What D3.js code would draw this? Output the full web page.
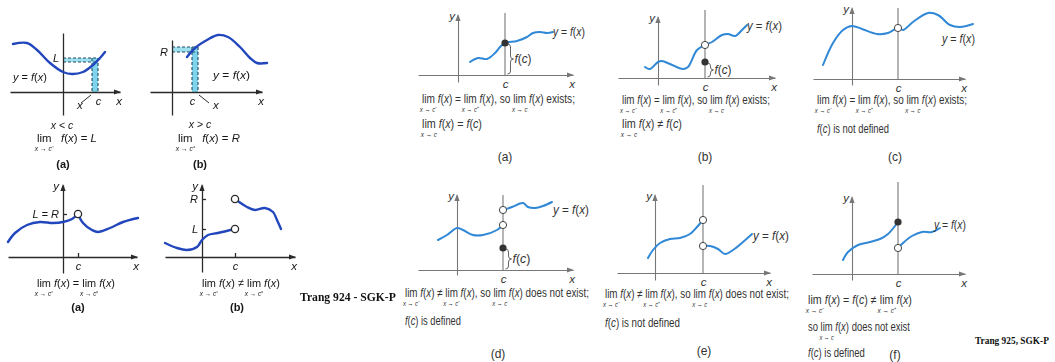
<!DOCTYPE html>
<html><head><meta charset="utf-8">
<script src="https://cdn.jsdelivr.net/npm/d3@7"></script>
<style>body{margin:0;background:#fff}svg{display:block}</style>
</head><body>
<svg id="chart" width="1055" height="362"></svg>
<script>
// ================= DATA (axis units) =================
// ---- left page (Trang 924) ----
const lA_curve = [[-5.0,4.8],[-3.6,4.9],[-2.6,4.2],[-1.3,2.9],[0,2.0],[0.9,1.8],[2.0,2.0],[3.0,2.7],[3.7,3.4],[4.2,4.0]];
const lA_c = 3.5, lA_x = 2.9, lA_L = 3.4, lA_fx = 3.0;
const lB_curve = [[1.5,3.5],[2.3,4.4],[3.5,5.2],[4.6,5.7],[5.6,5.5],[6.8,4.5],[7.8,3.4],[8.5,2.9],[9.5,2.9]];
const lB_c = 2.0, lB_x = 2.6, lB_R = 4.0, lB_fx = 4.5;
const lC_left  = [[-5.5,1.5],[-4.8,2.4],[-3.6,3.2],[-2.3,3.5],[-1.0,3.4],[0,3.5],[0.9,3.8],[1.5,4.3]];
const lC_right = [[1.5,4.3],[2.0,3.4],[2.9,2.7],[3.5,2.5],[4.7,2.9],[6.0,3.5],[7.5,3.9]];
const lC_c = 1.5, lC_LR = 4.3;
const lD_left  = [[-3.7,1.4],[-2.5,0.9],[-1.5,0.7],[-0.5,1.0],[0,1.7],[0.6,2.2],[1.6,2.4],[3.3,2.8]];
const lD_right = [[3.3,5.8],[4.5,5.0],[5.3,4.7],[6.3,4.9],[7.1,4.5],[7.5,3.7],[7.9,2.8]];
const lD_c = 3.3, lD_L = 2.8, lD_R = 5.8;

// ---- right page (Trang 925) ----
const rA_curves = [[[1.2,1.3],[2.0,1.7],[2.9,1.6],[3.7,2.2],[4.2,2.8],[4.7,3.2],[5.9,3.4],[6.9,3.8],[7.5,4.2],[8.2,4.3],[8.9,4.2],[9.5,4.3]]];
const rA_c = 4.7, rA_open = [], rA_filled = [3.2], rA_fc = 3.2;
const rB_curves = [[[-1.3,1.1],[-0.8,0.9],[0,1.6],[0.4,1.7],[1.2,1.4],[2.5,0.9],[3.0,1.1],[3.9,2.8],[4.7,3.3],[5.4,3.6],[6.4,4.3],[7.0,4.4],[7.7,4.2],[8.4,4.8],[8.9,5.3]]];
const rB_c = 4.7, rB_open = [3.3], rB_filled = [1.6], rB_fc = 1.6;
const rC_curves = [[[-2.9,1.4],[-1.9,3.6],[-0.9,4.9],[0,5.3],[1.0,5.0],[2.5,4.5],[3.6,4.6],[4.6,5.1],[5.1,4.9],[6.1,5.7],[7.6,6.6],[8.6,6.4],[9.8,5.4],[10.8,5.2],[12.1,5.5]]];
const rC_c = 4.6, rC_open = [5.1], rC_filled = [], rC_fc = null;
const rD_curves = [[[-1.9,3.0],[-1.0,3.5],[0,4.2],[0.6,4.0],[1.6,3.5],[2.6,3.5],[4.0,4.0],[4.6,4.5]],
                   [[4.6,6.0],[5.5,6.3],[6.6,6.7],[7.1,6.3],[7.8,6.2],[8.6,6.4],[9.5,6.8]]];
const rD_c = 4.6, rD_open = [4.5, 6.0], rD_filled = [2.2], rD_fc = 2.2;
const rE_curves = [[[-0.7,1.5],[-0.2,2.3],[0.5,3.0],[1.5,3.4],[2.5,3.5],[3.5,3.9],[4.2,4.6],[4.8,5.3]],
                   [[4.8,2.7],[5.5,2.7],[6.3,2.4],[7.0,1.9],[7.8,2.3],[8.8,3.1],[9.7,3.9]]];
const rE_c = 4.8, rE_open = [5.3, 2.7], rE_filled = [], rE_fc = null;
const rF_curves = [[[-0.9,1.4],[-0.4,2.2],[0.6,2.9],[1.8,3.2],[2.8,3.5],[3.6,4.0],[4.6,5.2]],
                   [[4.6,2.6],[5.1,3.1],[6.0,3.8],[7.0,4.2],[8.0,4.2],[8.8,4.6]]];
const rF_c = 4.6, rF_open = [2.6], rF_filled = [5.2], rF_fc = null;

// ---- texts ----
const LM = "*x* → *c*⁻", LP = "*x* → *c*⁺", L0 = "*x* → *c*";
const capRA = [[{lim:LM}," *f*(*x*) = ",{lim:LP}," *f*(*x*), so ",{lim:L0}," *f*(*x*) exists;"],[{lim:L0}," *f*(*x*) = *f*(*c*)"]];
const capRB = [[{lim:LM}," *f*(*x*) = ",{lim:LP}," *f*(*x*), so ",{lim:L0}," *f*(*x*) exists;"],[{lim:L0}," *f*(*x*) ≠ *f*(*c*)"]];
const capRC = [[{lim:LM}," *f*(*x*) = ",{lim:LP}," *f*(*x*), so ",{lim:L0}," *f*(*x*) exists;"],["*f*(*c*) is not defined"]];
const capRD = [[{lim:LM}," *f*(*x*) ≠ ",{lim:LM}," *f*(*x*), so ",{lim:L0}," *f*(*x*) does not exist;"],["*f*(*c*) is defined"]];
const capRE = [[{lim:LM}," *f*(*x*) ≠ ",{lim:LP}," *f*(*x*), so ",{lim:L0}," *f*(*x*) does not exist;"],["*f*(*c*) is not defined"]];
const capRF = [[{lim:LM}," *f*(*x*) = *f*(*c*) ≠ ",{lim:LP}," *f*(*x*)"],["so ",{lim:L0}," *f*(*x*) does not exist"],["*f*(*c*) is defined"]];
const capLA = [{lim:"*x* → *c*⁻"},"   *f*(*x*) = *L*"];
const capLB = [{lim:"*x* → *c*⁺"},"   *f*(*x*) = *R*"];
const capLC = [{lim:"*x* → *c*⁻"}," *f*(*x*) = ",{lim:"*x* → *c*⁺"}," *f*(*x*)"];
const capLD = [{lim:"*x* → *c*⁻"}," *f*(*x*) ≠ ",{lim:"*x* → *c*⁺"}," *f*(*x*)"];
const panelTags = ["(a)","(b)","(c)","(d)","(e)","(f)"];
const pageTags = ["Trang 924 - SGK-P","Trang 925, SGK-P"];

// ================= DRAWING =================
const svg = d3.select("#chart");
const K = 10; // px per axis unit
const FONT = "'Liberation Sans Narrow','Liberation Sans',Arial,sans-serif";
const SERIF = "'Liberation Serif','Times New Roman',serif";
const RBLUE = "#3088d6", LBLUE = "#2447bd", RTXT = "#333", LTXT = "#161616";

svg.append("defs").append("filter").attr("id","scan")
  .append("feGaussianBlur").attr("stdDeviation",0.35);

function rich(sel, str){
  str.split("*").forEach((seg,i)=>{ if(seg) sel.append("tspan").attr("font-style", i%2 ? "italic" : null).text(seg); });
}
function formula(g, x, y, w, parts, o={}){
  const fs=o.fs||12.5, ss=o.ss||7.5, sd=o.sd||9.5, col=o.col||RTXT;
  const grp = g.append("g").attr("font-family",o.family||FONT).attr("fill",col).attr("font-weight",o.bold?"bold":null);
  let cx=0;
  parts.forEach(p=>{
    if (typeof p === "object"){
      const t = grp.append("text").attr("x",cx).attr("y",0).attr("font-size",fs).text("lim");
      const tw = t.node().getComputedTextLength();
      const s = grp.append("text").attr("x",cx+tw/2).attr("y",sd).attr("font-size",ss).attr("text-anchor","middle");
      rich(s,p.lim);
      cx += tw;
    } else {
      const t = grp.append("text").attr("x",cx).attr("y",0).attr("font-size",fs)
        .attr("xml:space","preserve").style("white-space","pre");
      rich(t,p);
      cx += t.node().getComputedTextLength();
    }
  });
  const sx = w ? w/cx : 1;
  grp.attr("transform",`translate(${x},${y}) scale(${sx},1)`);
  return grp;
}
function label(g, x, y, str, o={}){
  const t = g.append("text").attr("x",x).attr("y",y).attr("font-family",FONT)
    .attr("font-size",o.fs||11.5).attr("fill",o.col||RTXT).attr("text-anchor",o.anchor||"start")
    .attr("font-weight",o.bold?"bold":null);
  rich(t,str);
  return t;
}
function scales(ox, oy, xd, yd){
  return {
    x: d3.scaleLinear().domain(xd).range(xd.map(v=>ox+v*K)),
    y: d3.scaleLinear().domain(yd).range(yd.map(v=>oy-v*K))
  };
}
function arrowR(g, x, y, col){ g.append("path").attr("d",`M${x+1},${y}L${x-6},${y-2.6}L${x-6},${y+2.6}Z`).attr("fill",col); }
function arrowU(g, x, y, col){ g.append("path").attr("d",`M${x},${y-1}L${x-2.6},${y+6}L${x+2.6},${y+6}Z`).attr("fill",col); }
const lineGen = (s)=> d3.line().x(d=>s.x(d[0])).y(d=>s.y(d[1])).curve(d3.curveCatmullRom.alpha(0.5));

function axes(g, s, col, width, xTicks, xFmt, xTickSize, yTicks, yFmt, yTickSize, fs, tcol){
  const xa = g.append("g").attr("transform",`translate(0,${s.y(0)})`)
    .call(d3.axisBottom(s.x).tickValues(xTicks).tickFormat(xFmt).tickSize(xTickSize).tickPadding(5).tickSizeOuter(0));
  const ya = g.append("g").attr("transform",`translate(${s.x(0)},0)`)
    .call(d3.axisLeft(s.y).tickValues(yTicks).tickFormat(yFmt).tickSize(yTickSize).tickPadding(4).tickSizeOuter(0));
  [xa,ya].forEach(a=>{
    a.select(".domain").attr("stroke",col).attr("stroke-width",width);
    a.selectAll(".tick line").attr("stroke",col).attr("stroke-width",width);
    a.selectAll(".tick text").attr("font-family",FONT).attr("font-size",fs).attr("font-style","italic").attr("fill",tcol);
  });
  arrowR(g, s.x.range()[1], s.y(0), col);
}

// ---------------- right page panels ----------------
function rightPanel(cfg, curves, c, open, filled, fc, caps, tag){
  const g = svg.append("g");
  const s = scales(cfg.ox, cfg.oy, cfg.xd, cfg.yd);
  g.append("line").attr("x1",s.x(c)).attr("x2",s.x(c)).attr("y1",s.y(0)).attr("y2",s.y(cfg.cTop))
    .attr("stroke","#777").attr("stroke-width",1.1);
  axes(g, s, "#777", 1.1, [c], ()=>"c", 0, [], null, 0, 11.5, RTXT);
  arrowU(g, s.x(0), s.y.range()[1], "#777");
  label(g, s.x(0)-6, s.y.range()[1]+5, "*y*", {anchor:"middle"});
  label(g, s.x.range()[1]-1, s.y(0)+13, "*x*", {anchor:"middle"});
  curves.forEach(cv => g.append("path").attr("d",lineGen(s)(cv)).attr("fill","none")
    .attr("stroke",RBLUE).attr("stroke-width",2).attr("stroke-linecap","round"));
  if (fc !== null){
    const bx = s.x(c)+2.5, y0 = s.y(fc)+1, y1 = s.y(0)-1, m=(y0+y1)/2;
    g.append("path").attr("d",`M${bx},${y0}q3,0 3,3V${m-3}q0,3 3,3q-3,0 -3,3V${y1-3}q0,3 -3,3`)
      .attr("fill","none").attr("stroke","#555").attr("stroke-width",0.9);
    formula(g, bx+7, m+4, cfg.fcw, ["*f*(*c*)"]);
  }
  filled.forEach(v => g.append("circle").attr("cx",s.x(c)).attr("cy",s.y(v)).attr("r",3.6).attr("fill","#333"));
  open.forEach(v => g.append("circle").attr("cx",s.x(c)).attr("cy",s.y(v)).attr("r",3.6)
    .attr("fill","#fff").attr("stroke","#444").attr("stroke-width",1));
  formula(g, cfg.yfx[0], cfg.yfx[1], cfg.yfx[2], ["*y* = *f*(*x*)"], {fs:12.5});
  caps.forEach((cp,i)=> formula(g, cfg.capx, cfg.capy[i], cfg.capw[i], cp));
  label(g, cfg.tag[0], cfg.tag[1], tag, {anchor:"middle", fs:12});
}

rightPanel({ox:458, oy:75, xd:[-4.0,11.5], yd:[-0.7,6.0], cTop:6.2, fcw:17, yfx:[553,36,32],
  capx:422, capy:[103,128], capw:[153,60], tag:[505,161]}, rA_curves, rA_c, rA_open, rA_filled, rA_fc, capRA, panelTags[0]);
rightPanel({ox:658, oy:78, xd:[-4.0,11.7], yd:[-0.7,6.1], cTop:6.8, fcw:17, yfx:[747,30,35],
  capx:622, capy:[104,128], capw:[148,60], tag:[705,161]}, rB_curves, rB_c, rB_open, rB_filled, rB_fc, capRB, panelTags[1]);
rightPanel({ox:852, oy:79, xd:[-3.9,11.3], yd:[-0.6,7.1], cTop:7.1, fcw:17, yfx:[942,43,33],
  capx:817, capy:[104,133], capw:[150,72], tag:[895,161]}, rC_curves, rC_c, rC_open, rC_filled, rC_fc, capRC, panelTags[2]);
rightPanel({ox:457, oy:270, xd:[-3.9,11.6], yd:[-0.5,7.5], cTop:7.5, fcw:18, yfx:[553,214,36],
  capx:405, capy:[297,325], capw:[184,56], tag:[498,358]}, rD_curves, rD_c, rD_open, rD_filled, rD_fc, capRD, panelTags[3]);
rightPanel({ox:655, oy:273, xd:[-3.8,11.5], yd:[-0.7,7.8], cTop:8.8, fcw:18, yfx:[753,240,36],
  capx:605, capy:[298,327], capw:[184,75], tag:[704,355]}, rE_curves, rE_c, rE_open, rE_filled, rE_fc, capRE, panelTags[4]);
rightPanel({ox:852, oy:274, xd:[-4.0,11.3], yd:[-0.6,7.7], cTop:9.2, fcw:18, yfx:[934,229,32],
  capx:808, capy:[304,331,357], capw:[104,102,57], tag:[895,359]}, rF_curves, rF_c, rF_open, rF_filled, rF_fc, capRF, panelTags[5]);

// ---------------- left page panels ----------------
const LG = svg.append("g").attr("filter","url(#scan)");
const LAX = "#2a2a2a";
function lcurve(g, s, cv){ g.append("path").attr("d",lineGen(s)(cv)).attr("fill","none")
  .attr("stroke",LBLUE).attr("stroke-width",2.4).attr("stroke-linecap","round"); }
function lshade(g, s, x0, x1, yLow, yTop){
  g.append("rect").attr("x",s.x(0)).attr("y",s.y(yTop)).attr("width",s.x(x1)-s.x(0)).attr("height",s.y(yLow)-s.y(yTop)).attr("fill","#9fe0ee");
  g.append("rect").attr("x",s.x(x0)).attr("y",s.y(yTop)).attr("width",s.x(x1)-s.x(x0)).attr("height",s.y(0)-s.y(yTop)).attr("fill","#7fd3ea");
  const dash = (a,b,c,d)=> g.append("line").attr("x1",a).attr("y1",b).attr("x2",c).attr("y2",d)
    .attr("stroke","#1f4a66").attr("stroke-width",1.1).attr("stroke-dasharray","3,2");
  dash(s.x(0),s.y(yTop),s.x(x1),s.y(yTop));
  dash(s.x(0),s.y(yLow),s.x(x1),s.y(yLow));
  dash(s.x(x0),s.y(yTop),s.x(x0),s.y(0));
  dash(s.x(x1),s.y(yTop),s.x(x1),s.y(0));
}
const lOpen = (g,x,y)=> g.append("circle").attr("cx",x).attr("cy",y).attr("r",3.6).attr("fill","#fff").attr("stroke",LAX).attr("stroke-width",1.3);
const LO = {col:LTXT, fs:11.5};
const LF = {col:LTXT, fs:11.5, ss:6.8, sd:9.5};

// (a) left-hand limit
{
  const g = LG.append("g");
  const s = scales(63, 92, [-5.3,5.7], [-2.3,5.9]);
  lshade(g, s, lA_x, lA_c, lA_fx, lA_L);
  axes(g, s, LAX, 1.3, [lA_c], ()=>"c", 0, [lA_L], ()=>"L", 0, 11, LTXT);
  lcurve(g, s, lA_curve);
  g.append("line").attr("x1",s.x(lA_x)-1).attr("y1",s.y(0)+3).attr("x2",s.x(lA_x)-11).attr("y2",s.y(0)+11).attr("stroke",LAX);
  label(g, s.x(lA_x)-15, s.y(0)+17, "*x*", LO);
  label(g, s.x.range()[1]-1, s.y(0)+13, "*x*", {...LO, anchor:"middle"});
  formula(g, 13, 81, 34, ["*y* = *f*(*x*)"], LF);
  label(g, 62, 129, "*x* < *c*", {...LO, anchor:"middle", fs:10.5});
  formula(g, 37, 142, 60, capLA, LF);
  label(g, 63, 168, panelTags[0], {...LO, anchor:"middle", bold:true, fs:11});
}
// (b) right-hand limit
{
  const g = LG.append("g");
  const s = scales(172, 92, [-2.2,9.0], [-2.3,5.2]);
  lshade(g, s, lB_c, lB_x, lB_R, lB_fx);
  axes(g, s, LAX, 1.3, [lB_c], ()=>"c", 0, [lB_R], ()=>"R", 0, 11, LTXT);
  lcurve(g, s, lB_curve);
  g.append("line").attr("x1",s.x(lB_x)+1).attr("y1",s.y(0)+3).attr("x2",s.x(lB_x)+11).attr("y2",s.y(0)+11).attr("stroke",LAX);
  label(g, s.x(lB_x)+15, s.y(0)+17, "*x*", LO);
  label(g, s.x.range()[1]-1, s.y(0)+13, "*x*", {...LO, anchor:"middle"});
  formula(g, 213, 79, 37, ["*y* = *f*(*x*)"], LF);
  label(g, 200, 128, "*x* > *c*", {...LO, anchor:"middle", fs:10.5});
  formula(g, 178, 142, 62, capLB, LF);
  label(g, 200, 168, panelTags[1], {...LO, anchor:"middle", bold:true, fs:11});
}
// (a) limits equal
{
  const g = LG.append("g");
  const s = scales(63, 257, [-5.5,7.4], [-1.6,7.2]);
  axes(g, s, LAX, 1.3, [lC_c], ()=>"c", -4, [lC_LR], ()=>"L = R", -4, 11, LTXT);
  arrowU(g, s.x(0), s.y.range()[1], LAX);
  lcurve(g, s, lC_left); lcurve(g, s, lC_right);
  lOpen(g, s.x(lC_c), s.y(lC_LR));
  label(g, s.x(0)-7, s.y.range()[1]+5, "*y*", {...LO, anchor:"middle"});
  label(g, s.x.range()[1]-1, s.y(0)+13, "*x*", {...LO, anchor:"middle"});
  formula(g, 37, 287, 78, capLC, LF);
  label(g, 78, 311, panelTags[0], {...LO, anchor:"middle", bold:true, fs:11});
}
// (b) limits differ
{
  const g = LG.append("g");
  const s = scales(202, 257, [-3.7,9.3], [-1.5,7.2]);
  axes(g, s, LAX, 1.3, [lD_c], ()=>"c", -4, [lD_L, lD_R], d=> d===lD_L ? "L" : "R", -4, 11, LTXT);
  arrowU(g, s.x(0), s.y.range()[1], LAX);
  lcurve(g, s, lD_left); lcurve(g, s, lD_right);
  lOpen(g, s.x(lD_c), s.y(lD_L)); lOpen(g, s.x(lD_c), s.y(lD_R));
  label(g, s.x(0)-7, s.y.range()[1]+5, "*y*", {...LO, anchor:"middle"});
  label(g, s.x.range()[1]-1, s.y(0)+13, "*x*", {...LO, anchor:"middle"});
  formula(g, 202, 287, 78, capLD, LF);
  label(g, 237, 311, panelTags[1], {...LO, anchor:"middle", bold:true, fs:11});
}

// page tags (scaled groups so the box matches the drawn width)
formula(svg, 300, 301, 96, [pageTags[0]], {family:SERIF, bold:true, fs:13, col:"#111"});
formula(svg, 975, 344, 74, [pageTags[1]], {family:SERIF, bold:true, fs:11, col:"#111"});
</script>
</body></html>
